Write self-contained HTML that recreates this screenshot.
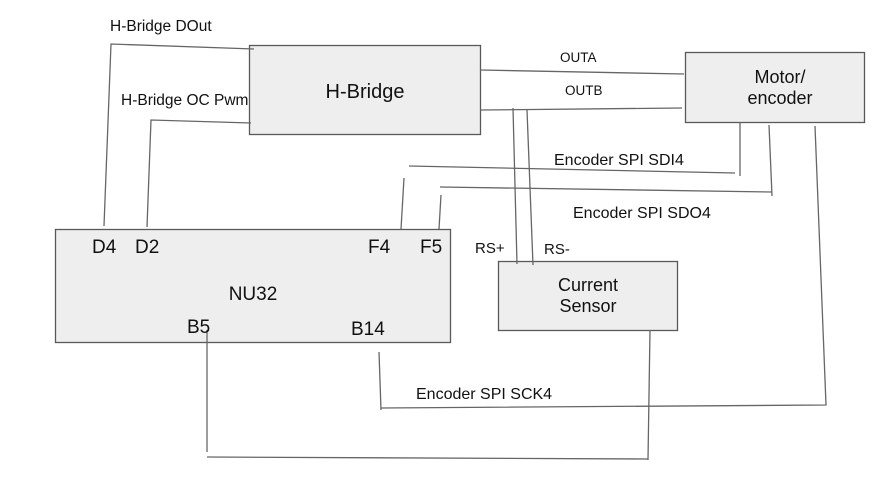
<!DOCTYPE html>
<html><head><style>
body{margin:0;background:#fff}
svg text{font-family:"Liberation Sans",Arial,sans-serif;fill:#111}
</style></head><body>
<svg width="893" height="495" viewBox="0 0 893 495" xmlns="http://www.w3.org/2000/svg">
<g fill="#eeeeee" stroke="#595959" stroke-width="1.3">
<rect x="249.5" y="45.5" width="231" height="89"/>
<rect x="685.5" y="52.5" width="179" height="70"/>
<rect x="55.5" y="229.5" width="395" height="113"/>
<rect x="498.5" y="261.5" width="179" height="69"/>
</g>
<g stroke="#666" stroke-width="1.3" fill="none">
<polyline points="254,49 111,44 104,226"/>
<polyline points="251,123 151,120 147,227"/>
<line x1="480" y1="70" x2="684" y2="74"/>
<line x1="480" y1="110" x2="682" y2="108"/>
<line x1="513" y1="108" x2="517" y2="264"/>
<line x1="527" y1="110" x2="533" y2="265"/>
<line x1="409" y1="166" x2="735" y2="173"/>
<line x1="740" y1="122" x2="740" y2="176"/>
<line x1="404" y1="178" x2="401" y2="229"/>
<line x1="440" y1="187" x2="772" y2="192"/>
<line x1="769" y1="125" x2="772" y2="196"/>
<line x1="441" y1="195" x2="439" y2="229"/>
<polyline points="815,126 826,405 381,408"/>
<line x1="379" y1="352" x2="381" y2="410"/>
<line x1="207" y1="330" x2="207" y2="452"/>
<line x1="207" y1="457" x2="648" y2="459"/>
<line x1="650" y1="330" x2="648" y2="460"/>
</g>
<text x="110" y="31" font-size="15.5">H-Bridge DOut</text>
<text x="121" y="105" font-size="15.5">H-Bridge OC Pwm</text>
<text x="365" y="98" font-size="20" text-anchor="middle">H-Bridge</text>
<text x="780" y="83" font-size="18" text-anchor="middle">Motor/</text>
<text x="780" y="104" font-size="18" text-anchor="middle">encoder</text>
<text x="560" y="62" font-size="13.5">OUTA</text>
<text x="565" y="95" font-size="13.5">OUTB</text>
<text x="554" y="165" font-size="16">Encoder SPI SDI4</text>
<text x="573" y="218" font-size="16">Encoder SPI SDO4</text>
<text x="475" y="253" font-size="15">RS+</text>
<text x="544" y="254" font-size="15">RS-</text>
<text x="92" y="253" font-size="19">D4</text>
<text x="135" y="253" font-size="19">D2</text>
<text x="368" y="253" font-size="19">F4</text>
<text x="420" y="253" font-size="19">F5</text>
<text x="253" y="300" font-size="19" text-anchor="middle">NU32</text>
<text x="187" y="333" font-size="19">B5</text>
<text x="351" y="335" font-size="19">B14</text>
<text x="588" y="291" font-size="18" text-anchor="middle">Current</text>
<text x="588" y="312" font-size="18" text-anchor="middle">Sensor</text>
<text x="416" y="399" font-size="16">Encoder SPI SCK4</text>
</svg>
</body></html>
